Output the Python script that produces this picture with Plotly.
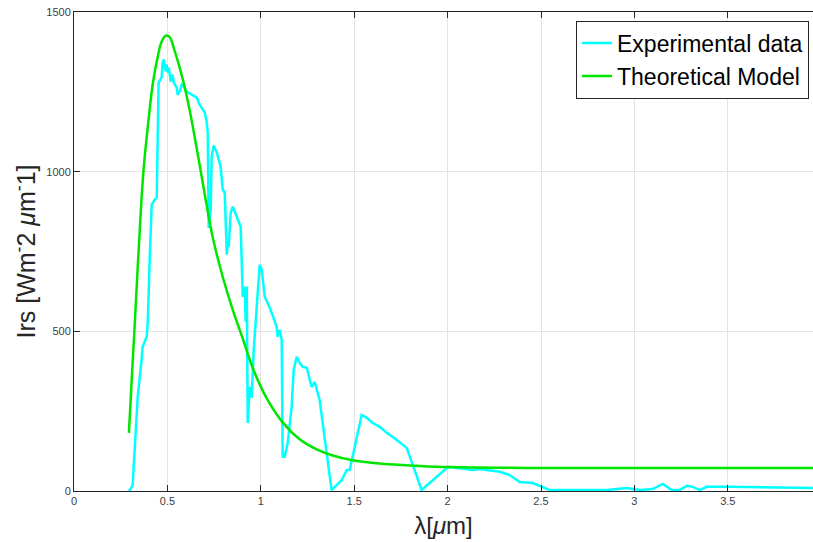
import plotly.graph_objects as go

# Measured irradiance spectrum (wavelength in micrometres, Irs in W m^-2 um^-1)
exp_wavelength = [
    0.293, 0.304, 0.314, 0.330, 0.341, 0.362, 0.367, 0.389, 0.395, 0.405,
    0.416, 0.432, 0.443, 0.453, 0.469, 0.475, 0.480, 0.491, 0.496, 0.502,
    0.507, 0.518, 0.528, 0.534, 0.550, 0.555, 0.566, 0.577, 0.587, 0.603,
    0.630, 0.657, 0.673, 0.700, 0.710, 0.716, 0.721, 0.732, 0.737, 0.748,
    0.764, 0.785, 0.796, 0.807, 0.818, 0.823, 0.828, 0.839, 0.850, 0.871,
    0.892, 0.898, 0.903, 0.914, 0.919, 0.925, 0.930, 0.941, 0.951, 0.962,
    0.978, 0.994, 1.005, 1.021, 1.048, 1.085, 1.090, 1.101, 1.112, 1.117,
    1.128, 1.144, 1.165, 1.176, 1.192, 1.208, 1.224, 1.246, 1.272, 1.288,
    1.315, 1.379, 1.433, 1.460, 1.476, 1.540, 1.567, 1.599, 1.637, 1.674,
    1.728, 1.781, 1.861, 1.995, 2.011, 2.065, 2.134, 2.172, 2.279, 2.332,
    2.386, 2.456, 2.509, 2.547, 2.852, 2.959, 3.028, 3.098, 3.152, 3.200,
    3.242, 3.280, 3.312, 3.350, 3.387, 3.494, 4.000,
]
exp_irradiance = [
    0, 6, 19, 191, 295, 411, 451, 483, 530, 724,
    897, 912, 919, 1279, 1295, 1342, 1351, 1314, 1336, 1310,
    1326, 1282, 1304, 1279, 1263, 1241, 1251, 1273, 1267, 1251,
    1241, 1232, 1210, 1185, 1157, 1122, 824, 881, 1047, 1082,
    1060, 1016, 944, 934, 740, 777, 765, 872, 890, 859,
    828, 715, 608, 640, 530, 640, 213, 326, 292, 442,
    577, 708, 693, 608, 574, 514, 483, 505, 473, 107,
    107, 150, 263, 379, 420, 401, 389, 386, 326, 342,
    285, 3, 34, 66, 66, 238, 229, 213, 201, 182,
    160, 135, 3, 72, 75, 72, 66, 69, 60, 50,
    28, 25, 13, 3, 3, 9, 3, 6, 22, 3,
    3, 16, 13, 3, 13, 13, 9,
]

# Theoretical model curve
model_wavelength = [
    0.294, 0.309, 0.325, 0.341, 0.357, 0.373, 0.395, 0.423, 0.450, 0.468,
    0.491, 0.512, 0.539, 0.582, 0.620, 0.641, 0.673, 0.705, 0.742, 0.796,
    0.850, 0.903, 0.957, 1.032, 1.117, 1.208, 1.299, 1.385, 1.492, 1.653,
    1.835, 2.011, 2.547, 3.000, 3.500, 4.000,
]
model_irradiance = [
    182, 348, 520, 700, 870, 1010, 1140, 1280, 1365, 1405,
    1426, 1421, 1378, 1290, 1190, 1125, 1020, 912, 796, 671,
    567, 478, 385, 290, 215, 162, 130, 111, 96, 85,
    79, 75, 72, 72, 72, 72,
]

x_tick_vals = [0, 0.5, 1, 1.5, 2, 2.5, 3, 3.5]
x_tick_text = ["0", "0.5", "1", "1.5", "2", "2.5", "3", "3.5"]
y_tick_vals = [0, 500, 1000, 1500]
y_tick_text = ["0", "500", "1000", "1500"]

FONT = "Liberation Sans, Arial, sans-serif"
AXIS_COLOR = "#262626"
GRID_COLOR = "#e3e3e3"

fig = go.Figure()
fig.add_trace(go.Scatter(
    x=exp_wavelength, y=exp_irradiance, mode="lines",
    name="Experimental data",
    line=dict(color="#00ffff", width=2.5),
))
fig.add_trace(go.Scatter(
    x=model_wavelength, y=model_irradiance, mode="lines",
    name="Theoretical Model",
    line=dict(color="#00e600", width=2.5, shape="spline", smoothing=1.0),
))

fig.update_layout(
    width=813, height=542,
    margin=dict(l=74, r=0, t=12, b=51),
    paper_bgcolor="white", plot_bgcolor="white",
    font=dict(family=FONT, color=AXIS_COLOR),
    showlegend=True,
    legend=dict(
        x=0.9946, y=0.982, xanchor="right", yanchor="top",
        bgcolor="white", bordercolor="#262626", borderwidth=1,
        font=dict(family=FONT, size=23, color="black"),
        itemwidth=30, tracegroupgap=0,
    ),
    xaxis=dict(
        range=[0, 3.956], tickvals=x_tick_vals, ticktext=x_tick_text,
        showline=True, linecolor=AXIS_COLOR, linewidth=1, mirror="ticks",
        ticks="inside", ticklen=6, tickcolor=AXIS_COLOR,
        showgrid=True, gridcolor=GRID_COLOR, zeroline=False,
        tickfont=dict(size=11, color="#404040"),
        title=dict(text="λ[<i>μ</i>m]", font=dict(size=24, color="#262626"), standoff=10),
    ),
    yaxis=dict(
        range=[0, 1500], tickvals=y_tick_vals, ticktext=y_tick_text,
        showline=True, linecolor=AXIS_COLOR, linewidth=1, mirror=False,
        ticks="inside", ticklen=6, tickcolor=AXIS_COLOR,
        showgrid=True, gridcolor=GRID_COLOR, zeroline=False,
        tickfont=dict(size=11, color="#404040"),
        title=dict(text="Irs [Wm<sup>-</sup>2 <i>μ</i>m<sup>-</sup>1]",
                   font=dict(size=25, color="#262626"), standoff=3),
    ),
)

fig.write_html("out.html")
